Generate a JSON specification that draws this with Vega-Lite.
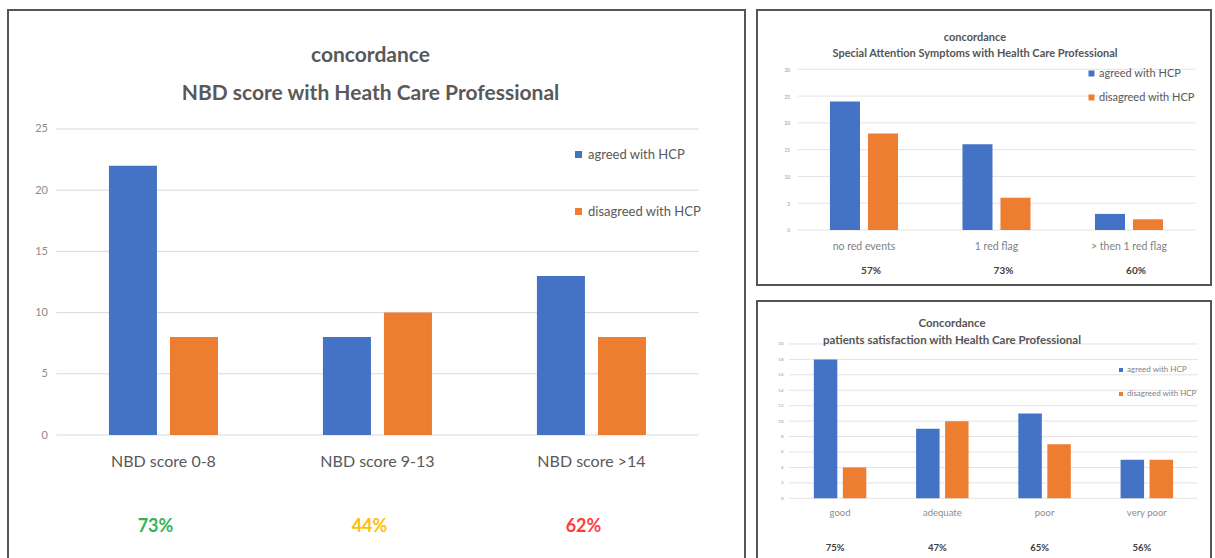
{
  "$schema": "https://vega.github.io/schema/vega-lite/v6.json",
  "padding": {"left": 7, "top": 9, "right": 2, "bottom": -3},
  "background": "white",
  "config": {
    "font": "Lato",
    "view": {"stroke": "#555555", "strokeWidth": 2},
    "legend": {"padding": 0, "symbolStrokeWidth": 0, "title": null}
  },
  "datasets": {
    "nbd": [
      {"category": "NBD score 0-8", "series": "agreed with HCP", "count": 22},
      {"category": "NBD score 0-8", "series": "disagreed with HCP", "count": 8},
      {"category": "NBD score 9-13", "series": "agreed with HCP", "count": 8},
      {"category": "NBD score 9-13", "series": "disagreed with HCP", "count": 10},
      {"category": "NBD score >14", "series": "agreed with HCP", "count": 13},
      {"category": "NBD score >14", "series": "disagreed with HCP", "count": 8}
    ],
    "nbdPct": [
      {"category": "NBD score 0-8", "pct": "73%"},
      {"category": "NBD score 9-13", "pct": "44%"},
      {"category": "NBD score >14", "pct": "62%"}
    ],
    "grid25": [{"v": 0}, {"v": 5}, {"v": 10}, {"v": 15}, {"v": 20}, {"v": 25}],
    "sas": [
      {"category": "no red events", "series": "agreed with HCP", "count": 24},
      {"category": "no red events", "series": "disagreed with HCP", "count": 18},
      {"category": "1 red flag", "series": "agreed with HCP", "count": 16},
      {"category": "1 red flag", "series": "disagreed with HCP", "count": 6},
      {"category": "> then 1 red flag", "series": "agreed with HCP", "count": 3},
      {"category": "> then 1 red flag", "series": "disagreed with HCP", "count": 2}
    ],
    "sasPct": [
      {"category": "no red events", "pct": "57%"},
      {"category": "1 red flag", "pct": "73%"},
      {"category": "> then 1 red flag", "pct": "60%"}
    ],
    "grid30": [{"v": 0}, {"v": 5}, {"v": 10}, {"v": 15}, {"v": 20}, {"v": 25}, {"v": 30}],
    "sat": [
      {"category": "good", "series": "agreed with HCP", "count": 18},
      {"category": "good", "series": "disagreed with HCP", "count": 4},
      {"category": "adequate", "series": "agreed with HCP", "count": 9},
      {"category": "adequate", "series": "disagreed with HCP", "count": 10},
      {"category": "poor", "series": "agreed with HCP", "count": 11},
      {"category": "poor", "series": "disagreed with HCP", "count": 7},
      {"category": "very poor", "series": "agreed with HCP", "count": 5},
      {"category": "very poor", "series": "disagreed with HCP", "count": 5}
    ],
    "satPct": [
      {"category": "good", "pct": "75%"},
      {"category": "adequate", "pct": "47%"},
      {"category": "poor", "pct": "65%"},
      {"category": "very poor", "pct": "56%"}
    ],
    "grid20": [{"v": 0}, {"v": 2}, {"v": 4}, {"v": 6}, {"v": 8}, {"v": 10}, {"v": 12}, {"v": 14}, {"v": 16}, {"v": 18}, {"v": 20}]
  },
  "bounds": "flush",
  "spacing": 12,
  "resolve": {"scale": {"color": "independent", "fill": "independent", "xOffset": "independent"}, "legend": {"color": "independent"}},
  "hconcat": [
    {
      "width": 737,
      "height": 550,
      "title": {
        "text": ["concordance", "NBD score with Heath Care Professional"],
        "fontSize": 21, "fontWeight": "bold", "color": "#595959",
        "lineHeight": 38, "offset": -94, "dx": -6, "anchor": "middle", "frame": "group"
      },
      "resolve": {"axis": {"x": "independent", "y": "independent"}},
      "layer": [
        {
          "data": {"name": "grid25"},
          "mark": {"type": "rule", "color": "#d9d9d9", "strokeWidth": 1},
          "encoding": {
            "y": {"field": "v", "type": "quantitative", "axis": null, "scale": {"domain": [-10.21, 34.72], "nice": false, "zero": false}},
            "x": {"datum": "NBD score 0-8", "type": "nominal", "bandPosition": 0, "axis": null,
                  "scale": {"domain": ["NBD score 0-8", "NBD score 9-13", "NBD score >14"], "paddingInner": 0, "paddingOuter": 0.222, "align": 0.51}},
            "x2": {"datum": "NBD score >14", "bandPosition": 1}
          }
        },
        {
          "data": {"name": "nbd"},
          "mark": {"type": "bar"},
          "encoding": {
            "x": {"field": "category", "type": "nominal",
                  "scale": {"domain": ["NBD score 0-8", "NBD score 9-13", "NBD score >14"], "paddingInner": 0, "paddingOuter": 0.222, "align": 0.51},
                  "axis": {"orient": "bottom", "offset": -125, "domain": false, "ticks": false, "grid": false, "title": null, "labelAngle": 0,
                           "labelPadding": 18, "labelFontSize": 16, "labelColor": "#595959"}},
            "xOffset": {"field": "series", "type": "nominal", "scale": {"paddingInner": 0.213, "paddingOuter": 0.86}},
            "y": {"field": "count", "type": "quantitative",
                  "scale": {"domain": [-10.21, 34.72], "nice": false, "zero": false},
                  "axis": {"orient": "left", "offset": -48.5, "values": [0, 5, 10, 15, 20, 25], "domain": false, "ticks": false, "grid": false,
                           "title": null, "labelPadding": 9, "labelFontSize": 11, "labelColor": "#8c8c8c"}},
            "y2": {"datum": 0},
            "color": {"field": "series", "type": "nominal",
                      "scale": {"domain": ["agreed with HCP", "disagreed with HCP"], "range": ["#4472c4", "#ed7d31"]},
                      "legend": {"orient": "none", "legendX": 564, "legendY": 138, "symbolType": "square", "symbolSize": 49,
                                 "labelFontSize": 13, "labelColor": "#595959", "rowPadding": 43, "labelOffset": 3}}
          }
        },
        {
          "data": {"name": "nbdPct"},
          "mark": {"type": "text", "fontSize": 18, "fontWeight": "bold", "dx": -8},
          "encoding": {
            "x": {"field": "category", "type": "nominal", "axis": null,
                  "scale": {"domain": ["NBD score 0-8", "NBD score 9-13", "NBD score >14"], "paddingInner": 0, "paddingOuter": 0.222, "align": 0.51}},
            "y": {"datum": -7.5, "type": "quantitative", "axis": null},
            "text": {"field": "pct"},
            "fill": {"field": "category", "type": "nominal", "legend": null,
                     "scale": {"domain": ["NBD score 0-8", "NBD score 9-13", "NBD score >14"], "range": ["#33b35a", "#ffc000", "#ff3c3c"]}}
          }
        }
      ]
    },
    {
      "bounds": "flush",
      "spacing": 16,
      "resolve": {"scale": {"color": "independent", "xOffset": "independent"}, "legend": {"color": "independent"}},
      "vconcat": [
        {
          "width": 454,
          "height": 275,
          "title": {
            "text": ["concordance", "Special Attention Symptoms with Health Care Professional"],
            "fontSize": 11, "fontWeight": "bold", "color": "#555555",
            "lineHeight": 16, "offset": -49, "dx": -9, "anchor": "middle", "frame": "group"
          },
          "resolve": {"axis": {"x": "independent", "y": "independent"}},
          "layer": [
            {
              "data": {"name": "grid30"},
              "mark": {"type": "rule", "color": "#e3e3e3", "strokeWidth": 1},
              "encoding": {
                "y": {"field": "v", "type": "quantitative", "axis": null, "scale": {"domain": [-10.27, 41.07], "nice": false, "zero": false}},
                "x": {"datum": "no red events", "type": "nominal", "bandPosition": 0, "axis": null,
                      "scale": {"domain": ["no red events", "1 red flag", "> then 1 red flag"], "paddingInner": 0, "paddingOuter": 0.2132, "align": 0.721}},
                "x2": {"datum": "> then 1 red flag", "bandPosition": 1}
              }
            },
            {
              "data": {"name": "sas"},
              "mark": {"type": "bar"},
              "encoding": {
                "x": {"field": "category", "type": "nominal",
                      "scale": {"domain": ["no red events", "1 red flag", "> then 1 red flag"], "paddingInner": 0, "paddingOuter": 0.2132, "align": 0.721},
                      "axis": {"orient": "bottom", "offset": -55, "domain": false, "ticks": false, "grid": false, "title": null, "labelAngle": 0,
                               "labelPadding": 11, "labelFontSize": 10.5, "labelColor": "#7f7f7f"}},
                "xOffset": {"field": "series", "type": "nominal", "scale": {"paddingInner": 0.21, "paddingOuter": 0.848}},
                "y": {"field": "count", "type": "quantitative",
                      "scale": {"domain": [-10.27, 41.07], "nice": false, "zero": false},
                      "axis": {"orient": "left", "offset": -40.75, "values": [0, 5, 10, 15, 20, 25, 30], "domain": false, "ticks": false, "grid": false,
                               "title": null, "labelPadding": 8, "labelFontSize": 5, "labelColor": "#999999"}},
                "y2": {"datum": 0},
                "color": {"field": "series", "type": "nominal",
                          "scale": {"domain": ["agreed with HCP", "disagreed with HCP"], "range": ["#4472c4", "#ed7d31"]},
                          "legend": {"orient": "none", "legendX": 329, "legendY": 58, "symbolType": "square", "symbolSize": 36,
                                     "labelFontSize": 11, "labelColor": "#595959", "rowPadding": 12, "labelOffset": 2}}
              }
            },
            {
              "data": {"name": "sasPct"},
              "mark": {"type": "text", "fontSize": 10, "fontWeight": "bold", "dx": 7, "color": "#404040"},
              "encoding": {
                "x": {"field": "category", "type": "nominal", "axis": null,
                      "scale": {"domain": ["no red events", "1 red flag", "> then 1 red flag"], "paddingInner": 0, "paddingOuter": 0.2132, "align": 0.721}},
                "y": {"datum": -7.65, "type": "quantitative", "axis": null},
                "text": {"field": "pct"}
              }
            }
          ]
        },
        {
          "width": 454,
          "height": 259,
          "title": {
            "text": ["Concordance", "patients satisfaction with Health Care Professional"],
            "fontSize": 11.5, "fontWeight": "bold", "color": "#555555",
            "lineHeight": 17, "offset": -45, "dx": -32, "anchor": "middle", "frame": "group"
          },
          "resolve": {"axis": {"x": "independent", "y": "independent"}},
          "layer": [
            {
              "data": {"name": "grid20"},
              "mark": {"type": "rule", "color": "#e3e3e3", "strokeWidth": 1},
              "encoding": {
                "y": {"field": "v", "type": "quantitative", "axis": null, "scale": {"domain": [-8.0, 25.57], "nice": false, "zero": false}},
                "x": {"datum": "good", "type": "nominal", "bandPosition": 0, "axis": null,
                      "scale": {"domain": ["good", "adequate", "poor", "very poor"], "paddingInner": 0, "paddingOuter": 0.22, "align": 0.71}},
                "x2": {"datum": "very poor", "bandPosition": 1}
              }
            },
            {
              "data": {"name": "sat"},
              "mark": {"type": "bar"},
              "encoding": {
                "x": {"field": "category", "type": "nominal",
                      "scale": {"domain": ["good", "adequate", "poor", "very poor"], "paddingInner": 0, "paddingOuter": 0.22, "align": 0.71},
                      "axis": {"orient": "bottom", "offset": -61.7, "domain": false, "ticks": false, "grid": false, "title": null, "labelAngle": 0,
                               "labelPadding": 9, "labelFontSize": 9.5, "labelColor": "#8c8c8c"}},
                "xOffset": {"field": "series", "type": "nominal", "scale": {"paddingInner": 0.19, "paddingOuter": 0.859}},
                "y": {"field": "count", "type": "quantitative",
                      "scale": {"domain": [-8.0, 25.57], "nice": false, "zero": false},
                      "axis": {"orient": "left", "offset": -32, "values": [0, 2, 4, 6, 8, 10, 12, 14, 16, 18, 20], "domain": false, "ticks": false, "grid": false,
                               "title": null, "labelPadding": 6, "labelFontSize": 4.5, "labelColor": "#999999"}},
                "y2": {"datum": 0},
                "color": {"field": "series", "type": "nominal",
                          "scale": {"domain": ["agreed with HCP", "disagreed with HCP"], "range": ["#4472c4", "#ed7d31"]},
                          "legend": {"orient": "none", "legendX": 360, "legendY": 65, "symbolType": "square", "symbolSize": 16,
                                     "labelFontSize": 8, "labelColor": "#7f7f7f", "rowPadding": 16, "labelOffset": 2}}
              }
            },
            {
              "data": {"name": "satPct"},
              "mark": {"type": "text", "fontSize": 9.5, "fontWeight": "bold", "dx": -5, "color": "#404040"},
              "encoding": {
                "x": {"field": "category", "type": "nominal", "axis": null,
                      "scale": {"domain": ["good", "adequate", "poor", "very poor"], "paddingInner": 0, "paddingOuter": 0.22, "align": 0.71}},
                "y": {"datum": -6.44, "type": "quantitative", "axis": null},
                "text": {"field": "pct"}
              }
            }
          ]
        }
      ]
    }
  ]
}
